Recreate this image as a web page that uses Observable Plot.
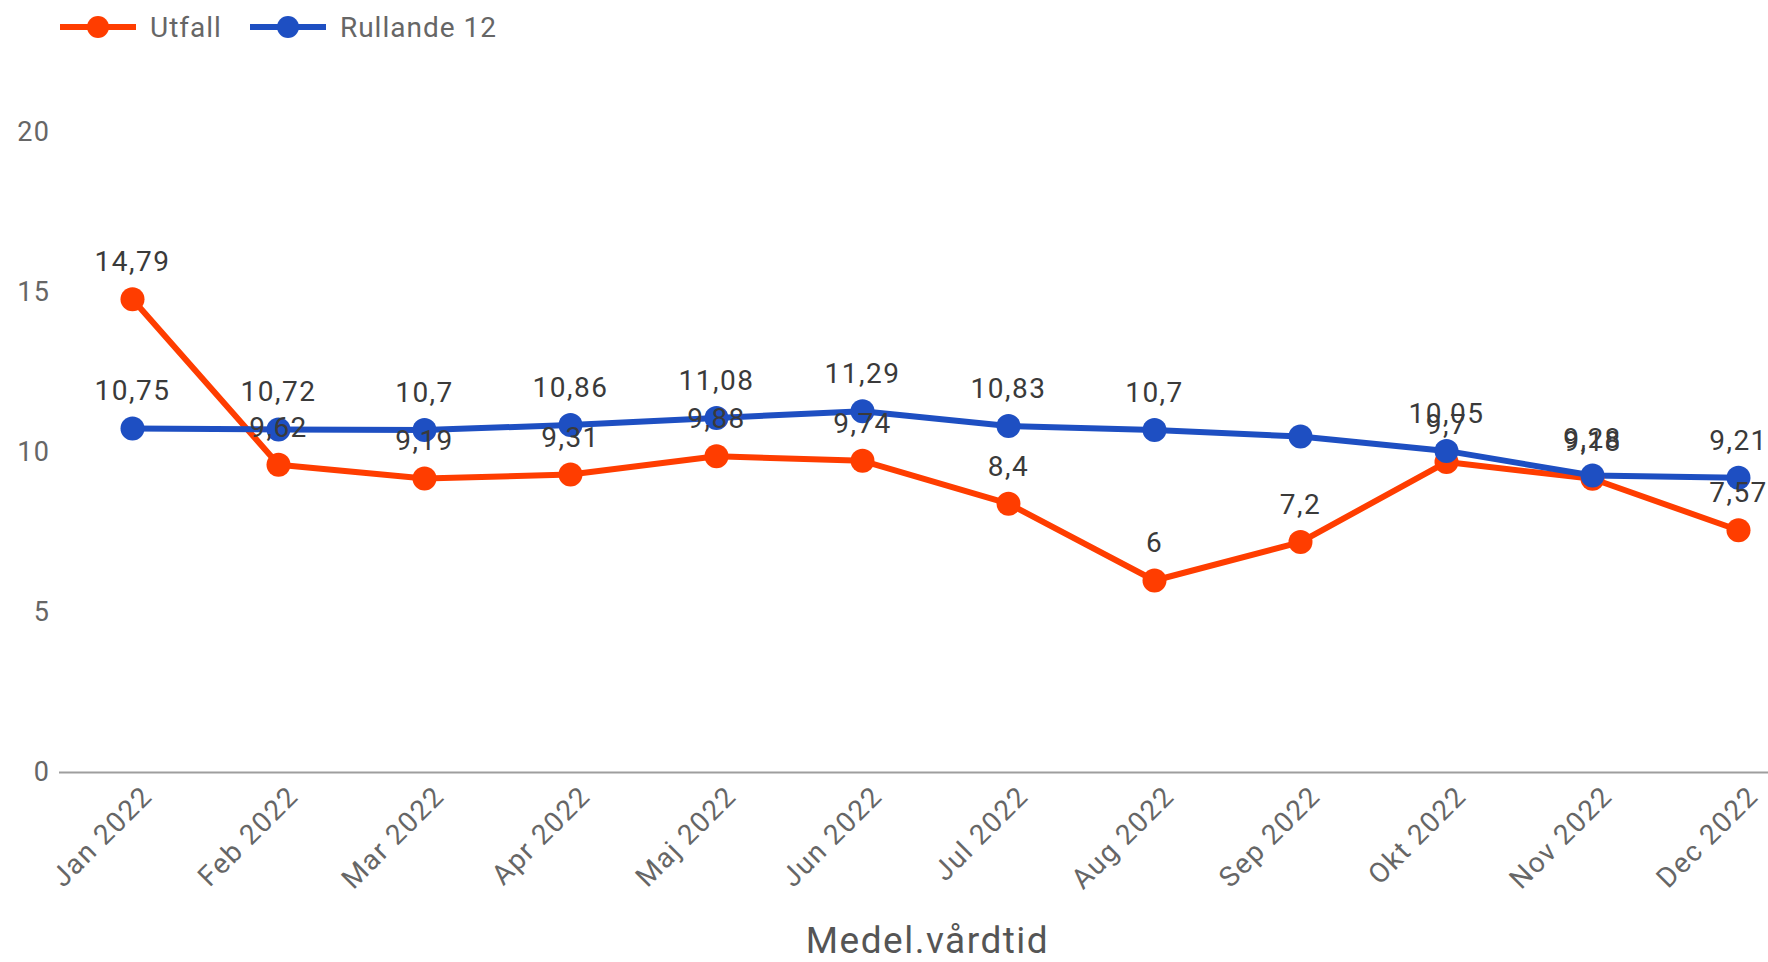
<!DOCTYPE html>
<html>
<head>
<meta charset="utf-8">
<script src="https://cdn.jsdelivr.net/npm/d3@7"></script>
<script src="https://cdn.jsdelivr.net/npm/@observablehq/plot@0.6"></script>
<style>
  body { margin: 0; background: #fff; font-family: Roboto, sans-serif; }
  #legend { height: 54px; display: flex; align-items: center; padding-left: 60px; font-size: 28px; letter-spacing: 1px; color: #666; }
  .item { display: flex; align-items: center; margin-right: 28px; }
  .item svg { margin-right: 14px; }
  #chart svg { display: block; }
  #chart svg text { letter-spacing: 1.5px; }
</style>
</head>
<body>
<div id="legend"></div>
<div id="chart"></div>
<script>
const months = ["Jan 2022", "Feb 2022", "Mar 2022", "Apr 2022", "Maj 2022", "Jun 2022",
                "Jul 2022", "Aug 2022", "Sep 2022", "Okt 2022", "Nov 2022", "Dec 2022"];
const utfall   = [14.79, 9.62, 9.19, 9.31, 9.88, 9.74, 8.4, 6, 7.2, 9.7, 9.18, 7.57];
const rullande = [10.75, 10.72, 10.7, 10.86, 11.08, 11.29, 10.83, 10.7, 10.5, 10.05, 9.28, 9.21];
const seriesNames = ["Utfall", "Rullande 12"];
const seriesColors = ["#ff3d00", "#1e4fc2"];
const yTicks = [0, 5, 10, 15, 20];
const xTitle = "Medel.vårdtid";
// labels hidden in the original (collision)
const hiddenLabels = [["Rullande 12", "Sep 2022"]];

const rows = [
  ...months.map((m, i) => ({month: m, series: seriesNames[0], value: utfall[i]})),
  ...months.map((m, i) => ({month: m, series: seriesNames[1], value: rullande[i]}))
];
const labelRows = rows.filter(d => !hiddenLabels.some(([s, m]) => s === d.series && m === d.month));
const fmt = v => String(v).replace(".", ",");

// legend
const legend = document.getElementById("legend");
seriesNames.forEach((name, i) => {
  const item = document.createElement("div");
  item.className = "item";
  item.innerHTML = `<svg width="76" height="24"><line x1="0" x2="76" y1="12" y2="12" stroke="${seriesColors[i]}" stroke-width="6"/><circle cx="38" cy="12" r="11" fill="${seriesColors[i]}"/></svg><span>${name}</span>`;
  legend.appendChild(item);
});

const chart = Plot.plot({
  width: 1768,
  height: 908,
  marginLeft: 132,
  marginRight: 30,
  marginTop: 78,
  marginBottom: 190,
  style: {fontFamily: "Roboto, sans-serif", background: "#fff"},
  x: {type: "point", domain: months, padding: 0, label: null},
  y: {domain: [0, 20], label: null},
  color: {domain: seriesNames, range: seriesColors},
  marks: [
    Plot.ruleY([0], {stroke: "#9e9e9e", strokeWidth: 2, insetLeft: -73, insetRight: -30}),
    Plot.axisY({ticks: yTicks, tickSize: 0, tickPadding: 82, fontSize: 27, fill: "#666", label: null}),
    Plot.axisX({tickSize: 0, tickRotate: -45, tickPadding: 19, dx: 15, fontSize: 28, fill: "#666", label: null}),
    Plot.line(rows, {x: "month", y: "value", z: "series", stroke: "series", strokeWidth: 6}),
    Plot.dot(rows, {x: "month", y: "value", fill: "series", r: 12}),
    Plot.text(labelRows, {x: "month", y: "value", text: d => fmt(d.value), dy: -37, fontSize: 28, fill: "#3a3a3a"}),
    Plot.text([xTitle], {frameAnchor: "bottom", text: d => d, dy: 180, dx: -8, fontSize: 37, fill: "#555"})
  ]
});
document.getElementById("chart").appendChild(chart);
</script>
</body>
</html>
